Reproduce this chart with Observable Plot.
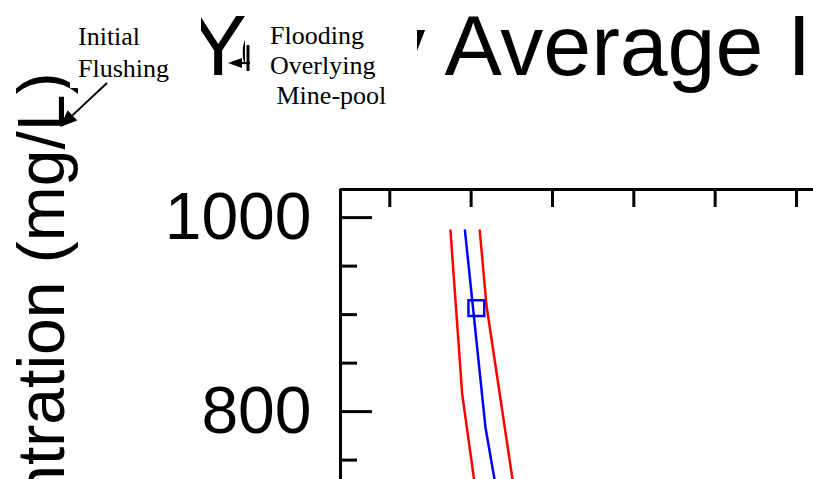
<!DOCTYPE html>
<html>
<head>
<meta charset="utf-8">
<script src="https://cdn.jsdelivr.net/npm/d3@7"></script>
<script src="https://cdn.jsdelivr.net/npm/@observablehq/plot@0.6"></script>
<style>
  html, body { margin: 0; padding: 0; background: #fff; }
  #chart { width: 813px; height: 479px; overflow: hidden; position: relative; }
</style>
</head>
<body>
<div id="chart"></div>
<script>
// ---- data ----
const titleText = "Yearly Average Iron Concentration";
const yLabel = "Concentration (mg/L)";
const xTicks = [1, 2, 3, 4, 5, 6];
const xDomain = [0.394, 6.209];
const yDomain = [730, 1029];
const yMajor = [800, 1000];
const yMinor = [750, 850, 900, 950];

const redLowX  = [1.746, 1.890, 2.036];
const redLowY  = [986.7, 818.3, 730];
const blueX    = [1.924, 2.176, 2.288];
const blueY    = [986.7, 783.9, 730];
const redHighX = [2.106, 2.189, 2.509];
const redHighY = [986.7, 909.4, 730];
const markerX  = [2.064];
const markerY  = [906.8];

const noteFlushing = ["Initial", "Flushing"];
const noteFlooding = ["Flooding", "Overlying", " Mine-pool"];

const toPts = (xs, ys) => xs.map((x, i) => ({x, y: ys[i]}));

const plot = Plot.plot({
  width: 813,
  height: 479,
  marginTop: 189,
  marginLeft: 340,
  marginRight: 0,
  marginBottom: 0,
  style: {fontFamily: "'Liberation Sans', Arial, sans-serif", color: "#000", background: "#fff"},
  x: {domain: xDomain, axis: null, label: null},
  y: {domain: yDomain, axis: null, label: null},
  marks: [
    // title (partly hidden by annotation boxes added later)
    Plot.text([titleText], {frameAnchor: "top-left", dx: -151, dy: -115, textAnchor: "start",
      lineAnchor: "bottom", fontSize: 86, fill: "#000"}),
    // y axis label
    Plot.text([yLabel], {frameAnchor: "top-left", dx: -277, dy: -117, rotate: -90, textAnchor: "end",
      lineAnchor: "bottom", fontSize: 66, fill: "#000"}),
    // tick labels
    Plot.axisY({ticks: yMajor, tickSize: 0, tickPadding: 29, fontSize: 66, fill: "#000",
      label: null, tickFormat: d => String(d)}),
    // axis lines
    Plot.ruleY([yDomain[1]], {stroke: "#000", strokeWidth: 3}),
    Plot.ruleX([xDomain[0]], {stroke: "#000", strokeWidth: 3}),
    // inward ticks
    Plot.ruleY(yMajor, {stroke: "#000", strokeWidth: 3, insetRight: 441}),
    Plot.ruleY(yMinor, {stroke: "#000", strokeWidth: 3, insetRight: 456}),
    Plot.ruleX(xTicks, {stroke: "#000", strokeWidth: 3, insetBottom: 272}),
    // series
    Plot.line(toPts(redLowX, redLowY), {x: "x", y: "y", stroke: "#ff0000", strokeWidth: 2.5, clip: true}),
    Plot.line(toPts(redHighX, redHighY), {x: "x", y: "y", stroke: "#ff0000", strokeWidth: 2.5, clip: true}),
    Plot.line(toPts(blueX, blueY), {x: "x", y: "y", stroke: "#0000ff", strokeWidth: 2.5, clip: true}),
    Plot.dot(toPts(markerX, markerY), {x: "x", y: "y", symbol: "square", r: 8.9, stroke: "#0000ff", strokeWidth: 2.5, fill: "none"})
  ]
});

document.getElementById("chart").appendChild(plot);

// ---- annotations drawn on top ----
const svg = d3.select(plot);
const g = svg.append("g").attr("text-anchor", "start");
// white text boxes
g.append("rect").attr("x", 70).attr("y", 8).attr("width", 131).attr("height", 80).attr("fill", "#fff");
g.append("rect").attr("x", 245).attr("y", 0).attr("width", 172).attr("height", 118).attr("fill", "#fff");

const serif = "'Liberation Serif', 'Times New Roman', serif";
const t1 = g.append("text").attr("font-family", serif).attr("font-size", 26).attr("fill", "#000")
  .attr("text-anchor", "start");
noteFlushing.forEach((s, i) => t1.append("tspan").attr("x", 78).attr("y", 45 + i * 32).text(s));
const t2 = g.append("text").attr("font-family", serif).attr("font-size", 26).attr("fill", "#000")
  .attr("text-anchor", "start").style("white-space", "pre");
noteFlooding.forEach((s, i) => t2.append("tspan").attr("x", 270).attr("y", 44 + i * 30).text(s));

function arrow(x1, y1, x2, y2, head = 16, half = 6) {
  const a = Math.atan2(y2 - y1, x2 - x1);
  const bx = x2 - head * Math.cos(a), by = y2 - head * Math.sin(a);
  g.append("line").attr("x1", x1).attr("y1", y1).attr("x2", bx).attr("y2", by)
    .attr("stroke", "#000").attr("stroke-width", 2);
  const px = -Math.sin(a) * half, py = Math.cos(a) * half;
  g.append("path").attr("d", `M${x2},${y2}L${bx + px},${by + py}L${bx - px},${by - py}Z`).attr("fill", "#000");
}
arrow(107, 83, 60, 127, 17, 7);
arrow(250, 63, 228, 63, 14, 5);
g.append("line").attr("x1", 248).attr("y1", 45).attr("x2", 248).attr("y2", 71)
  .attr("stroke", "#000").attr("stroke-width", 3);
</script>
</body>
</html>
